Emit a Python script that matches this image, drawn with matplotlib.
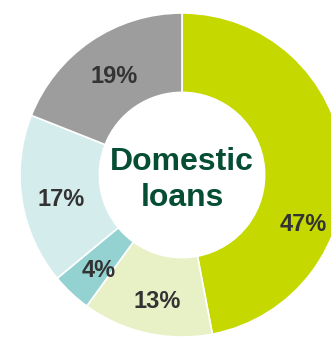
import matplotlib
matplotlib.use("Agg")
import matplotlib.pyplot as plt
import numpy as np

# Loan portfolio split
segments = ["Segment A", "Segment B", "Segment C", "Segment D", "Segment E"]
shares = [47, 13, 4, 17, 19]
colors = ["#c5d800", "#e8f0c6", "#93d2d1", "#d4ecec", "#9d9d9d"]
labels = [f"{v}%" for v in shares]
center_title = "Domestic\nloans"

W, H, DPI = 331, 337, 100
fig = plt.figure(figsize=(W / DPI, H / DPI), dpi=DPI)
ax = fig.add_axes([0, 0, 1, 1])

R = 162.0            # outer radius in pixels
cx, cy_top = 182.0, 175.0
wedges, _ = ax.pie(
    shares,
    colors=colors,
    startangle=90,
    counterclock=False,
    radius=1.0,
    wedgeprops=dict(width=0.49, edgecolor="white", linewidth=1.2),
)

# percentage labels inside the ring; the large slice's label sits lower
label_r = 0.77
angle_shift = {0: -26.0}
radius_override = {0: 0.785}
for i, (w, lab) in enumerate(zip(wedges, labels)):
    mid = 0.5 * (w.theta1 + w.theta2) + angle_shift.get(i, 0.0)
    r = radius_override.get(i, label_r)
    x = r * np.cos(np.deg2rad(mid)) + 0.012
    y = r * np.sin(np.deg2rad(mid)) - 0.03
    ax.text(x, y, lab, ha="center", va="center", fontsize=17,
            fontweight="bold", color="#333333", family="Liberation Sans")

ax.text(0, -0.03, center_title, ha="center", va="center",
        fontsize=23, fontweight="bold", color="#054d33",
        family="Liberation Sans", linespacing=1.25)

ax.set_xlim(-cx / R, (W - cx) / R)
ax.set_ylim(-(H - cy_top) / R, cy_top / R)
ax.set_aspect("auto")
ax.axis("off")

fig.savefig("out.png", dpi=DPI, facecolor="white")
